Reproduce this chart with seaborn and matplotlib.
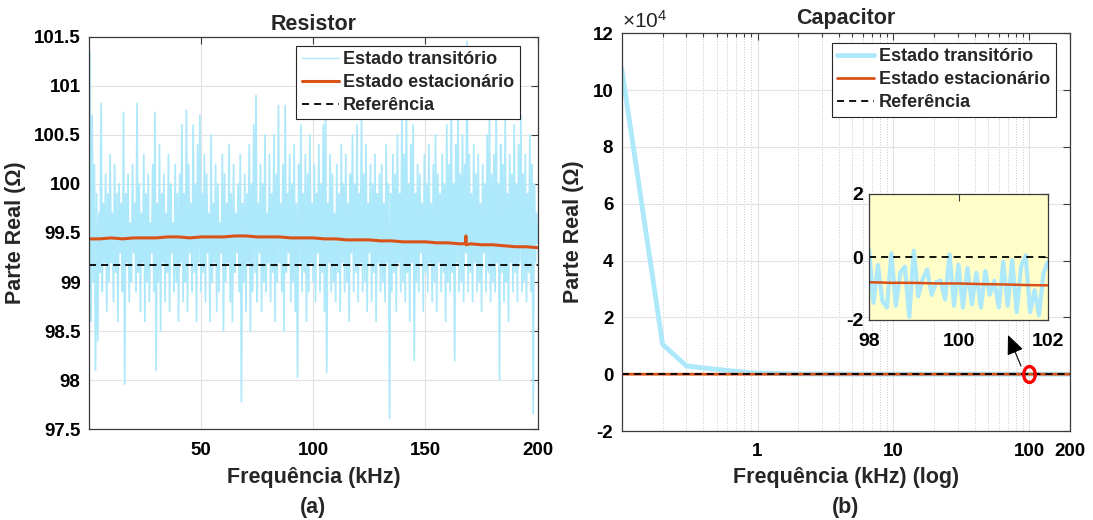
import numpy as np
import matplotlib
matplotlib.use("Agg")
import matplotlib.pyplot as plt
import seaborn as sns
from matplotlib.ticker import FuncFormatter, FixedLocator, LogLocator, NullFormatter
from matplotlib.path import Path

# ---------------- data ----------------
# (a) Resistor: transient estimate, 0.5 kHz steps from 0.5 to 200 kHz
res_trans = [
    101.35, 98.6, 100.7, 99.0, 100.2, 98.1, 99.9, 98.4, 99.7, 99.1, 100.82, 98.9, 99.8, 99.2, 100.1, 98.7, 99.9, 99.0, 100.3, 99.2,
    99.7, 98.8, 100.2, 99.1, 99.9, 98.6, 100.0, 99.3, 99.8, 98.9, 100.73, 97.96, 99.9, 99.2, 100.1, 98.8, 99.6, 99.0, 100.2, 99.3,
    99.8, 98.9, 100.82, 99.1, 100.0, 98.7, 99.7, 99.2, 100.3, 98.6, 99.9, 99.0, 100.1, 98.8, 99.6, 99.3, 100.2, 98.9, 100.73, 98.1,
    99.8, 99.0, 100.4, 98.5, 99.9, 99.2, 100.1, 98.8, 99.7, 99.1, 100.3, 98.7, 100.0, 99.3, 99.6, 98.9, 100.2, 99.0, 99.9, 98.6,
    100.1, 99.2, 100.6, 98.8, 99.9, 99.0, 100.75, 98.7, 100.2, 99.3, 99.8, 98.9, 100.6, 99.1, 100.0, 98.6, 100.4, 99.2, 100.7, 98.9,
    99.9, 99.1, 100.3, 98.8, 100.1, 99.3, 99.7, 98.6, 100.5, 99.0, 99.8, 99.2, 100.2, 98.7, 100.0, 98.9, 99.6, 99.3, 100.3, 98.5,
    100.1, 99.0, 99.8, 99.2, 100.4, 98.8, 99.9, 98.6, 100.2, 99.1, 99.7, 99.3, 100.0, 98.9, 100.3, 97.78, 99.8, 99.0, 100.1, 98.7,
    99.9, 99.2, 100.4, 98.5, 100.0, 98.9, 100.6, 99.1, 100.9, 98.8, 99.8, 99.3, 100.2, 98.7, 100.0, 99.0, 100.5, 98.9, 99.7, 99.2,
    100.3, 98.8, 99.9, 99.1, 100.5, 98.6, 100.1, 99.0, 100.8, 99.2, 99.8, 98.9, 100.2, 98.5, 100.8, 99.1, 99.9, 99.3, 100.3, 98.8,
    100.0, 99.0, 100.4, 98.7, 99.8, 98.03, 100.2, 99.2, 100.6, 98.9, 99.9, 99.1, 100.3, 98.6, 100.1, 98.9, 100.5, 99.2, 99.8, 99.0,
    100.2, 98.8, 99.9, 99.3, 100.4, 98.9, 100.0, 99.1, 100.6, 98.7, 100.85, 98.08, 99.8, 99.2, 100.3, 98.9, 100.1, 99.0, 99.7, 98.8,
    100.2, 99.1, 99.9, 98.7, 100.4, 99.2, 100.0, 98.9, 100.3, 99.0, 99.8, 98.6, 100.1, 99.3, 100.5, 98.9, 100.0, 99.1, 100.6, 98.8,
    99.9, 99.2, 100.7, 98.9, 100.1, 99.0, 100.4, 98.7, 99.8, 99.3, 100.2, 98.8, 100.0, 99.1, 100.3, 98.6, 99.9, 99.2, 100.1, 98.9,
    100.2, 99.0, 99.8, 98.8, 100.4, 99.2, 100.0, 97.61, 99.9, 98.9, 100.3, 99.1, 100.1, 98.7, 100.5, 99.2, 99.9, 98.9, 100.7, 99.0,
    100.3, 98.8, 100.85, 99.1, 100.0, 98.6, 100.4, 99.2, 100.6, 98.2, 99.9, 99.0, 100.2, 98.9, 100.1, 99.3, 99.8, 98.7, 100.3, 99.1,
    100.0, 98.9, 100.4, 99.2, 99.8, 98.8, 100.2, 99.0, 100.5, 98.7, 100.1, 99.2, 99.9, 98.9, 100.3, 99.1, 100.0, 98.6, 100.6, 99.0,
    100.2, 98.9, 100.9, 99.1, 100.0, 98.2, 100.4, 99.2, 100.8, 98.9, 100.1, 99.0, 100.5, 98.8, 100.2, 99.3, 101.45, 98.9, 100.3, 99.1,
    99.9, 98.8, 100.4, 99.2, 100.1, 98.9, 100.3, 99.0, 99.8, 98.7, 100.2, 99.3, 100.0, 98.9, 100.5, 99.1, 100.7, 98.8, 100.1, 99.0,
    100.3, 98.9, 100.8, 99.2, 100.0, 98.0, 100.4, 99.1, 100.2, 98.8, 100.7, 99.0, 99.9, 98.6, 100.3, 99.2, 100.1, 98.9, 100.6, 99.1,
    100.0, 98.8, 100.4, 99.2, 100.7, 98.9, 100.1, 99.0, 100.3, 98.8, 99.9, 99.1, 100.5, 98.9, 100.2, 97.66, 100.0, 99.2, 99.7, 99.4,
]
res_freq = np.linspace(0.5, 200, len(res_trans))

res_stat_freq = [0.1, 5, 10, 15, 20, 25, 30, 35, 40, 45, 50, 55, 60, 65, 70, 75, 80, 85, 90, 95,
                 100, 105, 110, 115, 120, 125, 130, 135, 140, 145, 150, 155, 160, 165,
                 167.8, 168, 168.2, 170, 175, 180, 185, 190, 195, 200]
res_stat = [99.44, 99.44, 99.45, 99.44, 99.45, 99.45, 99.45, 99.46, 99.46, 99.45, 99.46, 99.46, 99.46, 99.47, 99.47, 99.46, 99.46, 99.46, 99.45, 99.45,
            99.45, 99.44, 99.44, 99.43, 99.43, 99.43, 99.42, 99.42, 99.41, 99.41, 99.41, 99.40, 99.40, 99.39,
            99.39, 99.47, 99.38, 99.39, 99.38, 99.38, 99.37, 99.36, 99.36, 99.35]
res_ref = 99.17

# (b) Capacitor (Ohm)
cap_freq = [0.1, 0.2, 0.3, 0.4, 0.5, 0.6, 0.7, 0.8, 0.9, 1, 2, 5, 10, 20, 50, 100, 200]
cap_trans = [107600, 10500, 2900, 2200, 1700, 1300, 1000, 700, 500, 400, 100, 30, 10, 5, 2, 0, 0]
cap_stat = [-0.5, -0.5, -0.6, -0.6, -0.6, -0.6, -0.7, -0.7, -0.7, -0.7, -0.7, -0.8, -0.8, -0.8, -0.8, -0.85, -0.9]
cap_ref = 0.0

# inset (98-102 kHz)
ins_freq = [98.0, 98.1, 98.2, 98.3, 98.4, 98.5, 98.6, 98.7, 98.8, 98.9, 99.0, 99.1, 99.2, 99.3, 99.4,
            99.5, 99.6, 99.7, 99.8, 99.9, 100.0, 100.1, 100.2, 100.3, 100.4, 100.5, 100.6, 100.7,
            100.8, 100.9, 101.0, 101.1, 101.2, 101.3, 101.4, 101.5, 101.6, 101.7, 101.8, 101.9, 102.0]
ins_trans = [0.25, -1.45, -0.25, -1.4, -1.6, 0.12, -1.55, -0.5, -0.3, -1.9, 0.2, -1.25, -0.7, -0.4,
             -1.2, -0.8, -0.75, -1.35, 0.08, -1.55, -0.25, -1.6, -0.35, -1.5, -0.5, -1.6, -0.45,
             -1.2, -0.75, -1.6, -0.15, -1.55, -0.1, -1.75, -0.3, 0.05, -1.75, -1.05, -1.85, -0.5, -0.15]
ins_stat_freq = [98.0, 98.5, 99.0, 99.5, 100.0, 100.5, 101.0, 101.5, 102.0]
ins_stat = [-0.80, -0.82, -0.82, -0.84, -0.84, -0.86, -0.87, -0.89, -0.90]

labels = ["Estado transitório", "Estado estacionário", "Referência"]

# ---------------- style ----------------
sns.set_theme(style="white")
plt.rcParams["font.family"] = ["Liberation Sans", "DejaVu Sans"]
plt.rcParams["mathtext.fontset"] = "custom"
plt.rcParams["mathtext.rm"] = "Liberation Sans"

C_TR = "#ADE8FB"
C_ST = "#D95319"
SPINE = "#3a3a3a"
W, H = 1093, 520

fig = plt.figure(figsize=(W / 100, H / 100), dpi=100)


def frac(x0, y0, x1, y1):
    return [x0 / W, 1 - y1 / H, (x1 - x0) / W, (y1 - y0) / H]


ax1 = fig.add_axes(frac(89, 36.7, 537.7, 429.3))
ax2 = fig.add_axes(frac(621.7, 33.3, 1070, 431))

dash = (0, (3.9, 2.8))


def style_axes(ax, fs=13.5):
    for s in ax.spines.values():
        s.set_color(SPINE)
        s.set_linewidth(0.9)
        s.set_visible(True)
    ax.tick_params(which="both", direction="in", top=True, right=True, colors=SPINE,
                   labelcolor="black", labelsize=fs, width=0.8)
    ax.tick_params(which="major", length=5)
    ax.tick_params(which="minor", length=3)
    for lab in ax.get_xticklabels() + ax.get_yticklabels():
        lab.set_fontweight("bold")
    ax.set_axisbelow(True)


def legend(ax, anchor, tr_lw):
    leg = ax.legend(loc="upper right", bbox_to_anchor=anchor, borderaxespad=0,
                    prop={"size": 13, "weight": "bold"}, handlelength=2.05, handletextpad=0.25,
                    labelspacing=0.33, borderpad=0.3, fancybox=False, framealpha=1,
                    edgecolor="#262626")
    leg.get_frame().set_linewidth(0.8)
    leg.get_lines()[0].set_linewidth(tr_lw)
    return leg


# ---- (a) Resistor ----
sns.lineplot(x=res_freq, y=res_trans, ax=ax1, color=C_TR, lw=1.25, label=labels[0], sort=False)
sns.lineplot(x=res_stat_freq, y=res_stat, ax=ax1, color=C_ST, lw=2.2, label=labels[1], sort=False)
ax1.axhline(res_ref, color="black", lw=1.3, ls=dash, label=labels[2])
ax1.set_xlim(0.1, 200)
ax1.set_ylim(97.5, 101.5)
ax1.set_xticks([50, 100, 150, 200])
ax1.set_yticks(np.arange(97.5, 101.51, 0.5))
ax1.yaxis.set_major_formatter(FuncFormatter(lambda v, p: f"{v:g}"))
ax1.grid(True, which="major", color="#e2e2e2", lw=0.8)
style_axes(ax1)
ax1.tick_params(axis="x", pad=9)
ax1.tick_params(axis="y", pad=6)
ax1.set_title("Resistor", fontsize=15.5, fontweight="bold", pad=5)
ax1.set_xlabel("Frequência (kHz)", fontsize=15.5, fontweight="bold", labelpad=6)
ax1.set_ylabel("Parte Real (Ω)", fontsize=15.5, fontweight="bold", labelpad=6)
legend(ax1, (0.960, 0.977), 1.0)

# ---- (b) Capacitor ----
sns.lineplot(x=cap_freq, y=cap_trans, ax=ax2, color=C_TR, lw=3.5, label=labels[0], sort=False)
sns.lineplot(x=cap_freq, y=cap_stat, ax=ax2, color=C_ST, lw=2.0, label=labels[1], sort=False)
ax2.axhline(cap_ref, color="black", lw=1.3, ls=dash, label=labels[2])
ax2.set_xscale("log")
ax2.set_xlim(0.1, 200)
ax2.set_ylim(-2e4, 12e4)
ax2.set_yticks(np.arange(-2e4, 12.01e4, 2e4))
ax2.yaxis.set_major_formatter(FuncFormatter(lambda v, p: f"{v / 1e4:g}"))
ax2.xaxis.set_major_locator(FixedLocator([1, 10, 100, 200]))
ax2.xaxis.set_major_formatter(FuncFormatter(lambda v, p: f"{v:g}"))
ax2.xaxis.set_minor_locator(LogLocator(base=10, subs=np.arange(2, 10)))
ax2.xaxis.set_minor_formatter(NullFormatter())
ax2.grid(True, which="major", color="#e2e2e2", lw=0.8)
ax2.grid(True, which="minor", axis="x", color="#c8c8c8", lw=0.7, ls=":")
style_axes(ax2)
ax2.tick_params(axis="x", pad=9)
ax2.tick_params(axis="y", pad=6)
ax2.set_title("Capacitor", fontsize=15.5, fontweight="bold", pad=7)
ax2.set_xlabel("Frequência (kHz) (log)", fontsize=15.5, fontweight="bold", labelpad=5)
ax2.set_ylabel("Parte Real (Ω)", fontsize=15.5, fontweight="bold", labelpad=6)
legend(ax2, (0.9677, 0.9756), 3.5)
fig.text(622 / W, 1 - 21 / H, r"$\mathregular{\times10^{4}}$", fontsize=15,
         ha="left", va="center")

# panel tags
fig.text(313 / W, 1 - 507 / H, "(a)", fontsize=15.5, fontweight="bold", ha="center", va="center")
fig.text(846 / W, 1 - 507 / H, "(b)", fontsize=15.5, fontweight="bold", ha="center", va="center")

# marker ellipse at 100 kHz
circ = Path.unit_circle()
ell = Path(circ.vertices * np.array([0.72, 1.0]), circ.codes)
ax2.plot([100], [0], marker=ell, markersize=11.5, mfc="none", mec="red", mew=2.4,
         ls="none", zorder=6)

# arrow toward inset
ax2.annotate("", xy=(1008, H - 335), xycoords="figure pixels",
             xytext=(1021, H - 366), textcoords="figure pixels",
             arrowprops=dict(arrowstyle="-|>,head_length=0.8,head_width=0.35",
                             color="black", lw=0.8, mutation_scale=15, shrinkA=0, shrinkB=0))

# ---- inset ----
axi = fig.add_axes(frac(869, 194, 1048, 320))
axi.set_facecolor("#FFFDC8")
sns.lineplot(x=ins_freq, y=ins_trans, ax=axi, color=C_TR, lw=3.0, sort=False)
sns.lineplot(x=ins_stat_freq, y=ins_stat, ax=axi, color=C_ST, lw=1.8, sort=False)
axi.axhline(0, color="black", lw=1.3, ls=dash)
axi.set_xlim(98, 102)
axi.set_ylim(-2, 2)
axi.set_xticks([98, 100, 102])
axi.set_yticks([-2, 0, 2])
axi.xaxis.set_major_formatter(FuncFormatter(lambda v, p: f"{v:g}"))
axi.yaxis.set_major_formatter(FuncFormatter(lambda v, p: f"{v:g}"))
style_axes(axi, fs=14)
axi.tick_params(axis="x", pad=9)
axi.tick_params(axis="y", pad=4)
if axi.get_legend() is not None:
    axi.get_legend().remove()

fig.savefig("out.png", dpi=100)
